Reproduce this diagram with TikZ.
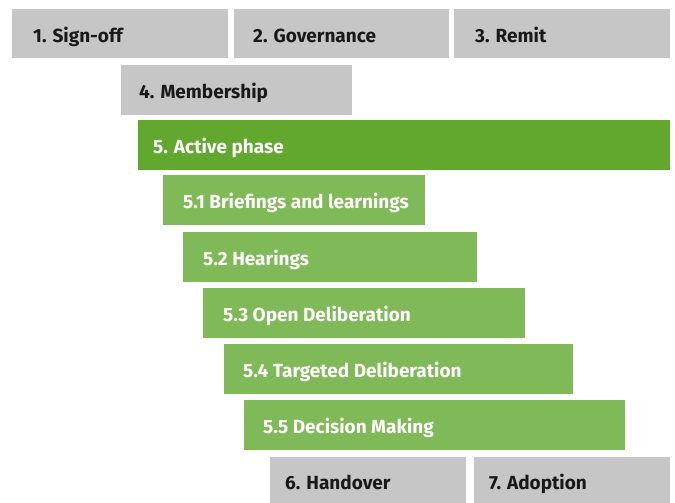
\documentclass[tikz,border=0pt]{standalone}
\usepackage{fontspec}
\setmainfont{Fira Sans}
\usetikzlibrary{calc}
\definecolor{boxgray}{RGB}{198,198,198}
\definecolor{darkgreen}{RGB}{99,168,46}
\definecolor{lightgreen}{RGB}{128,185,87}
\tikzset{
  phase/.style={anchor=north west, inner sep=0pt, outer sep=0pt, draw=none},
  graybox/.style={phase, fill=boxgray},
  mainbox/.style={phase, fill=darkgreen},
  subbox/.style={phase, fill=lightgreen},
  lbl/.style={anchor=base west, inner sep=0pt, font=\bfseries\fontsize{19}{22}\selectfont},
  darklbl/.style={lbl, text=black!90},
  whitelbl/.style={lbl, text=white},
}
\begin{document}
\begin{tikzpicture}[x=1pt,y=-1pt]
\path[use as bounding box] (0,0) rectangle (675,503);
% row 1
\node[graybox, minimum width=216pt, minimum height=49pt] (b1) at (12,9) {};
\node[graybox, minimum width=215pt, minimum height=49pt] (b2) at (234,9) {};
\node[graybox, minimum width=216pt, minimum height=49pt] (b3) at (454,9) {};
\node[darklbl] (t1) at ($(b1.north west)+(21,33.5)$) {1. Sign-off};
\node[darklbl] (t2) at ($(b2.north west)+(19,33.5)$) {2. Governance};
\node[darklbl] (t3) at ($(b3.north west)+(21,33.5)$) {3. Remit};
% row 2
\node[graybox, minimum width=231pt, minimum height=50pt] (b4) at (121,65) {};
\node[darklbl] (t4) at ($(b4.north west)+(18,33.5)$) {4. Membership};
% active phase
\node[mainbox, minimum width=532pt, minimum height=50pt] (b5) at (138,120) {};
\node[whitelbl] (t5) at ($(b5.north west)+(15,33)$) {5. Active phase};
% sub phases
\node[subbox, minimum width=262pt, minimum height=50pt] (b51) at (163,175) {};
\node[whitelbl] (t51) at ($(b51.north west)+(20,33.5)$) {5.1 Briefings and learnings};
\node[subbox, minimum width=294pt, minimum height=50pt] (b52) at (183,232) {};
\node[whitelbl] (t52) at ($(b52.north west)+(20,33.5)$) {5.2 Hearings};
\node[subbox, minimum width=322pt, minimum height=50pt] (b53) at (203,288) {};
\node[whitelbl] (t53) at ($(b53.north west)+(20,33.5)$) {5.3 Open Deliberation};
\node[subbox, minimum width=349pt, minimum height=50pt] (b54) at (224,344) {};
\node[whitelbl] (t54) at ($(b54.north west)+(19,33.5)$) {5.4 Targeted Deliberation};
\node[subbox, minimum width=381pt, minimum height=50pt] (b55) at (244,400) {};
\node[whitelbl] (t55) at ($(b55.north west)+(19,33.5)$) {5.5 Decision Making};
% last row
\node[graybox, minimum width=196pt, minimum height=46pt] (b6) at (270,457) {};
\node[graybox, minimum width=196pt, minimum height=46pt] (b7) at (474,457) {};
\node[darklbl] (t6) at ($(b6.north west)+(15,32)$) {6. Handover};
\node[darklbl] (t7) at ($(b7.north west)+(15,32)$) {7. Adoption};
\end{tikzpicture}
\end{document}
